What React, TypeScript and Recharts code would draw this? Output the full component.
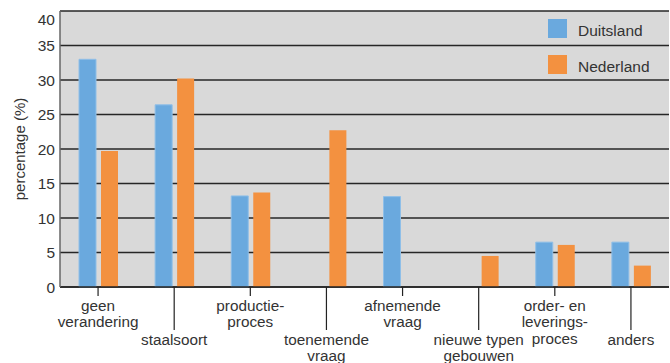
import React from "react";
import { BarChart, Bar, XAxis, YAxis, CartesianGrid } from "recharts";

const categories = [
  "geen\nverandering",
  "staalsoort",
  "productie-\nproces",
  "toenemende\nvraag",
  "afnemende\nvraag",
  "nieuwe typen\ngebouwen",
  "order- en\nleverings-\nproces",
  "anders",
];
const duitsland = [33, 26.4, 13.2, 0, 13.1, 0, 6.5, 6.5];
const nederland = [19.7, 30.2, 13.7, 22.7, 0, 4.5, 6.1, 3.1];
const yTicks = [0, 5, 10, 15, 20, 25, 30, 35, 40];
const seriesNames = ["Duitsland", "Nederland"];
const colors = ["#6aa9de", "#f39140"];

const data = categories.map((c, i) => ({
  cat: c,
  Duitsland: duitsland[i],
  Nederland: nederland[i],
}));

const FONT = "'Liberation Sans', Arial, sans-serif";
const TEXT = "#333333";

const XTick = (props: any) => {
  const { x, y, payload, index } = props;
  const idx = typeof index === "number" ? index : payload.index;
  const odd = idx % 2 === 1;
  const lines = String(payload.value).split("\n");
  const tickLen = odd ? 43 : 9;
  const base = odd ? 57.5 : 23.5;
  return (
    <g>
      <line x1={x} x2={x} y1={y} y2={y + tickLen} stroke="#222" strokeWidth={1.2} />
      {lines.map((l, k) => (
        <text
          key={k}
          x={x}
          y={y + base + k * 16.5}
          textAnchor="middle"
          fontSize={15.3}
          fontFamily={FONT}
          fill={TEXT}
        >
          {l}
        </text>
      ))}
    </g>
  );
};

const YTick = (props: any) => {
  const { x, y, payload } = props;
  const shift = payload.value === 40 ? 8 : 0;
  return (
    <text
      x={x}
      y={y + shift}
      dy="0.36em"
      textAnchor="end"
      fontSize={15.5}
      fontFamily={FONT}
      fill={TEXT}
    >
      {payload.value}
    </text>
  );
};

const LegendBox = () => (
  <div
    style={{
      position: "absolute",
      left: 548,
      top: 19,
      fontFamily: FONT,
      color: TEXT,
      fontSize: 15.5,
      pointerEvents: "none",
    }}
  >
    {seriesNames.map((n, i) => (
      <div
        key={n}
        style={{ display: "flex", alignItems: "center", height: 19, marginBottom: i === 0 ? 17 : 0 }}
      >
        <div style={{ width: 19, height: 19, background: colors[i], flex: "none" }} />
        <div style={{ marginLeft: 11, paddingTop: 4, lineHeight: "18px", whiteSpace: "nowrap" }}>{n}</div>
      </div>
    ))}
  </div>
);

export default function App() {
  return (
    <div style={{ position: "absolute", left: 0, top: 0, width: 670, height: 363, background: "#fff" }}>
      <BarChart
        width={670}
        height={363}
        data={data}
        margin={{ top: 11, right: 1, left: 0, bottom: 0 }}
        barSize={17}
        barGap={5}
      >
        <CartesianGrid
          vertical={false}
          stroke="#262626"
          strokeWidth={1.3}
          fill="#d9d9d9"
          fillOpacity={1}
        />
        <XAxis
          dataKey="cat"
          interval={0}
          height={76}
          tickSize={0}
          tickMargin={0}
          tickLine={false}
          axisLine={{ stroke: "#222", strokeWidth: 1.5 }}
          tick={<XTick />}
        />
        <YAxis
          width={60}
          domain={[0, 40]}
          ticks={yTicks}
          interval={0}
          tickSize={0}
          tickMargin={5}
          tickLine={false}
          axisLine={{ stroke: "#666", strokeWidth: 1.5 }}
          tick={<YTick />}
          label={{
            value: "percentage (%)",
            angle: -90,
            position: "insideLeft",
            offset: 20,
            style: { textAnchor: "middle", fontFamily: FONT, fontSize: 15, fill: TEXT },
          }}
        />
        <Bar
          dataKey="Duitsland"
          fill={colors[0]}
          stroke="#8fbfe8"
          strokeWidth={1}
          isAnimationActive={false}
        />
        <Bar dataKey="Nederland" fill={colors[1]} isAnimationActive={false} />
      </BarChart>
      <LegendBox />
    </div>
  );
}
